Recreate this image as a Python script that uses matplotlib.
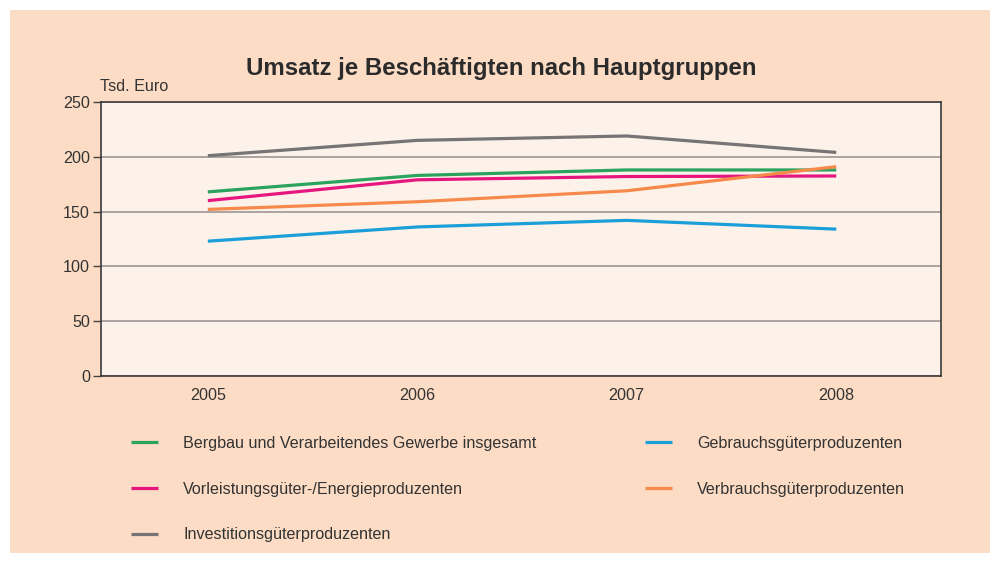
import matplotlib
matplotlib.use("Agg")
import matplotlib.pyplot as plt
from matplotlib.patches import Rectangle

plt.rcParams['font.family'] = ['Liberation Sans', 'DejaVu Sans']

years = [2005, 2006, 2007, 2008]
bergbau = [168, 183, 188, 188]
vorleistung = [160, 179, 182, 182.5]
investition = [201, 215, 219, 204]
gebrauch = [123, 136, 142, 134]
verbrauch = [152, 159, 169, 191]

labels = ['Bergbau und Verarbeitendes Gewerbe insgesamt',
          'Vorleistungsgüter-/Energieproduzenten',
          'Investitionsgüterproduzenten',
          'Gebrauchsgüterproduzenten',
          'Verbrauchsgüterproduzenten']
colors = ['#2ba35f', '#e5177f', '#767474', '#1a9fd9', '#f58a4b']
y_ticks = [0, 50, 100, 150, 200, 250]

W, H = 996, 563
fs = 11.6
fig = plt.figure(figsize=(W / 100, H / 100), dpi=100)
fig.patch.set_facecolor('white')
fig.add_artist(Rectangle((10 / W, 10 / H), 980 / W, 543 / H, transform=fig.transFigure,
                         facecolor='#fcdcc4', edgecolor='none', zorder=0))

ax = fig.add_axes([101 / W, (H - 376) / H, 840 / W, 274 / H])
ax.set_facecolor('#fdf2ea')

series = [bergbau, vorleistung, investition, gebrauch, verbrauch]
handles = []
for vals, col, lab in zip(series, colors, labels):
    h, = ax.plot(years, vals, color=col, lw=2.3, label=lab, solid_capstyle='butt')
    handles.append(h)

ax.set_xlim(2004.49, 2008.5)
ax.set_ylim(0, 250)
ax.set_yticks(y_ticks)
ax.set_xticks(years)
ax.yaxis.grid(True, color='#9e9694', lw=1.2)
ax.set_axisbelow(True)
ax.tick_params(axis='y', length=6, width=1, color='#444444', labelsize=fs, labelcolor='#333333', pad=2)
ax.tick_params(axis='x', length=0, labelsize=fs, labelcolor='#333333', pad=9)
for s in ax.spines.values():
    s.set_color('#3a3a3a')
    s.set_linewidth(1.2)

fig.text(501 / W, 1 - 68 / H, 'Umsatz je Beschäftigten nach Hauptgruppen',
         ha='center', va='center', fontsize=17.3, fontweight='bold', color='#2b2b2b')
fig.text(100 / W, 1 - 86 / H, 'Tsd. Euro', ha='left', va='center', fontsize=fs, color='#333333')

leg_kw = dict(frameon=False, loc='upper left', borderaxespad=0, borderpad=0,
              handlelength=1.7, handletextpad=1.55, labelspacing=1.9, fontsize=fs,
              labelcolor='#333333')
leg1 = fig.legend(handles[:3], labels[:3], bbox_to_anchor=(131 / W, 1 - 436 / H), **leg_kw)
for line in leg1.get_lines():
    line.set_linewidth(2.3)
leg2 = fig.legend(handles[3:], labels[3:], bbox_to_anchor=(645 / W, 1 - 436 / H), **leg_kw)
for line in leg2.get_lines():
    line.set_linewidth(2.3)

fig.savefig('out.png', dpi=100, facecolor=fig.get_facecolor())
